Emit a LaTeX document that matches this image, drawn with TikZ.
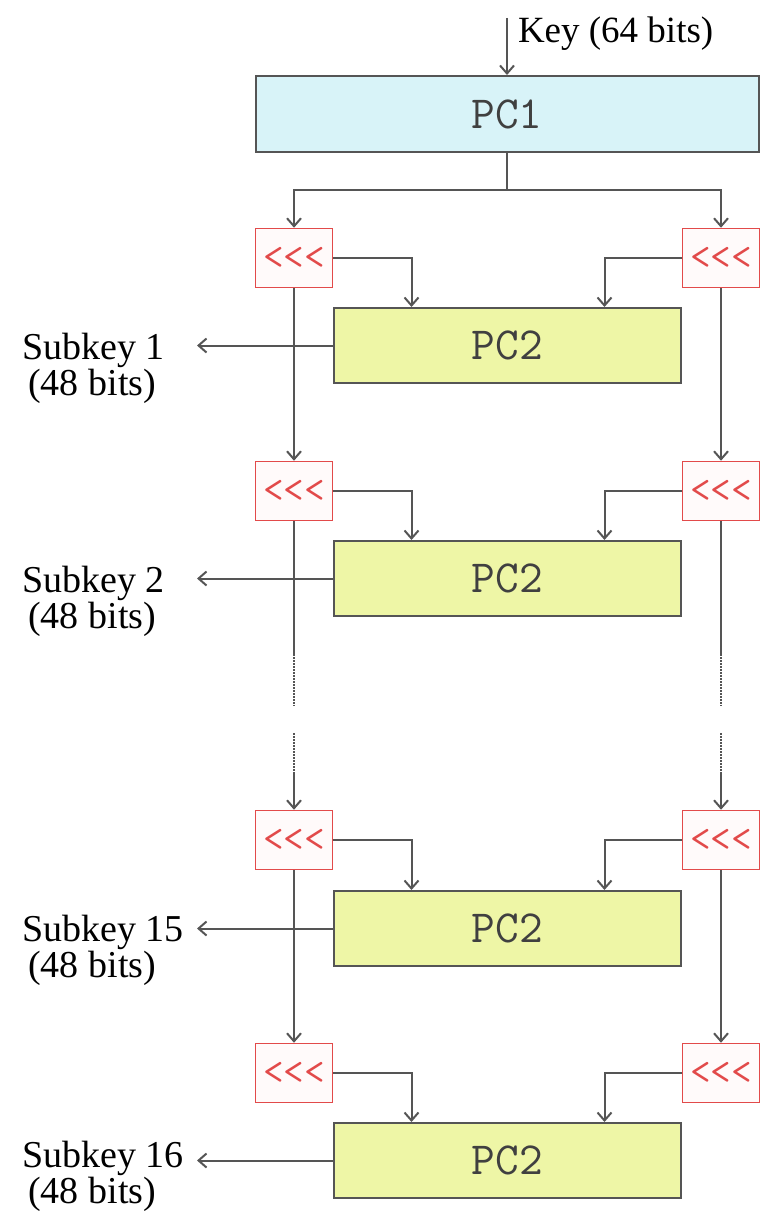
\documentclass[tikz,border=0pt]{standalone}
\usepackage{fontspec}
\setmainfont{Liberation Serif}
\usepackage{tikz}
\usetikzlibrary{arrows.meta}

\definecolor{linegray}{HTML}{555555}
\definecolor{pcblue}{HTML}{D8F3F8}
\definecolor{pcgreen}{HTML}{EEF6A6}
\definecolor{shiftred}{HTML}{E24A4A}

\begin{document}
\begin{tikzpicture}[x=1pt,y=-1pt,line width=2pt,
    >={Straight Barb[length=8pt,width=14pt]},
    wire/.style={draw=linegray},
    pcone/.style={draw=linegray,fill=pcblue,minimum width=503pt,minimum height=76pt,
        inner sep=0pt,font=\fontsize{46}{46}\selectfont\ttfamily,text=black!75},
    pctwo/.style={draw=linegray,fill=pcgreen,minimum width=347pt,minimum height=75pt,
        inner sep=0pt,font=\fontsize{46}{46}\selectfont\ttfamily,text=black!75},
    shiftbox/.style={draw=shiftred,fill=red!2,line width=1.5pt,minimum width=77pt,minimum height=59pt,
        inner sep=0pt,font=\fontsize{40}{40}\selectfont\ttfamily,text=shiftred},
    sublabel/.style={anchor=west,align=left,inner sep=0pt,font=\fontsize{38}{36}\selectfont}]

\useasboundingbox (0,0) rectangle (769,1215);

% key and PC1
\coordinate (keyin) at (507,18);
\node[pcone] (pc1) at (507,114) {PC1};
\node[anchor=west,inner sep=0pt,font=\fontsize{37}{37}\selectfont] (keylabel) at (517,34) {Key (64 bits)};
\draw[wire,->] (keyin) -- (pc1.north);

% shift boxes
\node[shiftbox] (sl1) at (294,258) {<<<};
\node[shiftbox] (sr1) at (721,258) {<<<};
\node[shiftbox] (sl2) at (294,491) {<<<};
\node[shiftbox] (sr2) at (721,491) {<<<};
\node[shiftbox] (sl3) at (294,840) {<<<};
\node[shiftbox] (sr3) at (721,840) {<<<};
\node[shiftbox] (sl4) at (294,1073) {<<<};
\node[shiftbox] (sr4) at (721,1073) {<<<};

% PC2 boxes
\node[pctwo] (pcA) at (507.5,345.5) {PC2};
\node[pctwo] (pcB) at (507.5,578.5) {PC2};
\node[pctwo] (pcC) at (507.5,928.5) {PC2};
\node[pctwo] (pcD) at (507.5,1160.5) {PC2};

% split after PC1
\draw[wire] (pc1.south) -- ++(0,37) coordinate (split);
\draw[wire,->] (split) -| (sl1.north);
\draw[wire,->] (split) -| (sr1.north);

% left and right chains
\draw[wire,->] (sl1.south) -- (sl2.north);
\draw[wire,->] (sr1.south) -- (sr2.north);
\draw[wire,->] (sl3.south) -- (sl4.north);
\draw[wire,->] (sr3.south) -- (sr4.north);

\draw[wire] (sl2.south) -- ++(0,133) coordinate (ldots1);
\draw[wire,densely dotted] (ldots1) -- ++(0,52);
\draw[wire,densely dotted] (294,733) -- (294,773) coordinate (ldots2);
\draw[wire,->] (ldots2) -- (sl3.north);
\draw[wire] (sr2.south) -- ++(0,133) coordinate (rdots1);
\draw[wire,densely dotted] (rdots1) -- ++(0,52);
\draw[wire,densely dotted] (721,733) -- (721,773) coordinate (rdots2);
\draw[wire,->] (rdots2) -- (sr3.north);

% into PC2
\draw[wire,->] (sl1.east) -| ([xshift=-96pt]pcA.north);
\draw[wire,->] (sr1.west) -| ([xshift=97pt]pcA.north);
\draw[wire,->] (sl2.east) -| ([xshift=-96pt]pcB.north);
\draw[wire,->] (sr2.west) -| ([xshift=97pt]pcB.north);
\draw[wire,->] (sl3.east) -| ([xshift=-96pt]pcC.north);
\draw[wire,->] (sr3.west) -| ([xshift=97pt]pcC.north);
\draw[wire,->] (sl4.east) -| ([xshift=-96pt]pcD.north);
\draw[wire,->] (sr4.west) -| ([xshift=97pt]pcD.north);

% subkeys
\coordinate (outA) at (197,345.5);
\coordinate (outB) at (197,578.5);
\coordinate (outC) at (197,928.5);
\coordinate (outD) at (197,1160.5);
\draw[wire,->] (pcA.west) -- (outA);
\draw[wire,->] (pcB.west) -- (outB);
\draw[wire,->] (pcC.west) -- (outC);
\draw[wire,->] (pcD.west) -- (outD);
\node[sublabel] (subA) at (21,368) {Subkey 1\\\,(48 bits)};
\node[sublabel] (subB) at (21,601) {Subkey 2\\\,(48 bits)};
\node[sublabel] (subC) at (21,950) {Subkey 15\\\,(48 bits)};
\node[sublabel] (subD) at (21,1176) {Subkey 16\\\,(48 bits)};

\end{tikzpicture}
\end{document}
